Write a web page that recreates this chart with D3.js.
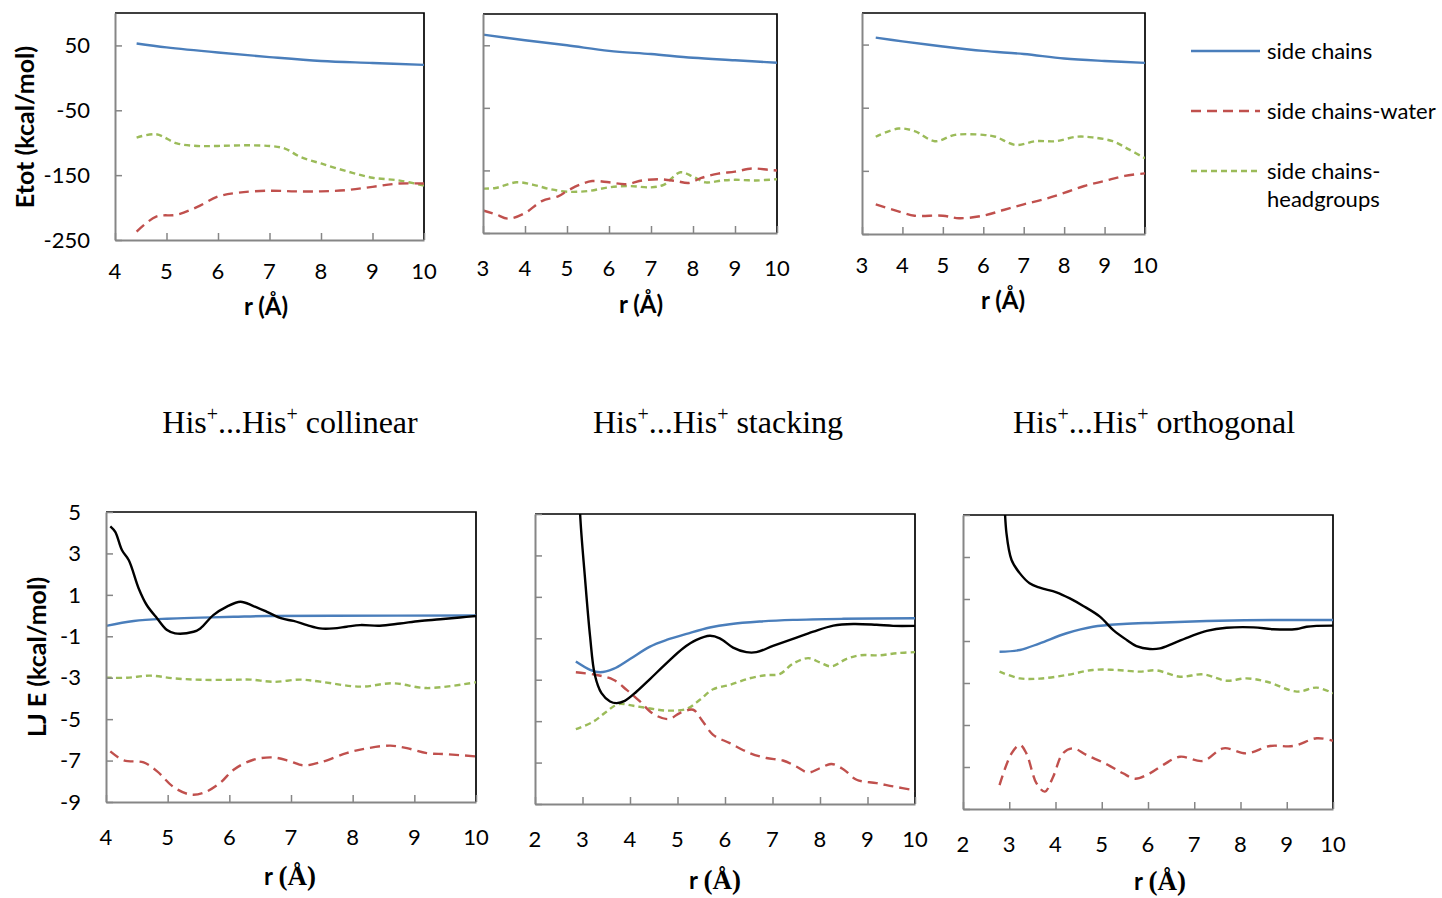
<!DOCTYPE html>
<html>
<head>
<meta charset="utf-8">
<script src="https://cdn.jsdelivr.net/npm/d3@7"></script>
<style>
  body { margin: 0; background: #fff; }
  text { font-family: Lato, "Open Sans", sans-serif; fill: #000; }
</style>
</head>
<body>
<script>
const width = 1442;
const height = 898;

// top row: total energy, [r, Etot]
const collSide = [[4.42,53],[5,47],[6,39],[7,32],[8,26],[9,23],[10,20]];
const collWater = [[4.42,-237],[4.8,-214],[5.2,-211],[5.6,-199],[6,-183],[6.4,-177],[7,-174],[7.5,-175],[8,-175],[8.5,-173],[9,-168],[9.5,-163],[10,-163]];
const collHead = [[4.42,-92],[4.8,-87],[5.2,-101],[5.6,-105],[6,-105],[6.5,-104],[7,-105],[7.3,-109],[7.6,-122],[8,-132],[8.5,-144],[9,-154],[9.5,-158],[10,-166]];

const stackSide = [[3,67],[4,58],[5,50],[6,41],[7,36],[8,30],[9,26],[10,22]];
const stackWater = [[3,-214],[3.3,-220],[3.6,-227],[4,-218],[4.4,-199],[4.8,-191],[5,-183],[5.3,-173],[5.6,-167],[6,-169],[6.4,-172],[6.8,-166],[7.2,-164],[7.6,-167],[7.9,-170],[8.2,-162],[8.6,-155],[9,-152],[9.4,-147],[9.8,-149],[10,-150]];
const stackHead = [[3,-179],[3.3,-178],[3.8,-169],[4.2,-173],[4.6,-180],[5,-184],[5.5,-183],[6,-177],[6.5,-175],[7,-177],[7.3,-173],[7.7,-153],[8,-160],[8.3,-169],[8.7,-166],[9,-165],[9.5,-166],[10,-164]];

const orthSide = [[3.34,61],[4,55],[5,47],[6,40],[7,35],[8,28],[9,24],[10,21]];
const orthWater = [[3.34,-203],[4,-216],[4.3,-221],[5,-221],[5.4,-225],[6,-221],[6.5,-212],[7,-203],[7.5,-195],[8,-185],[8.5,-174],[9,-166],[9.5,-158],[10,-154]];
const orthHead = [[3.34,-96],[3.9,-83],[4.3,-87],[4.8,-103],[5.3,-93],[6,-93],[6.3,-96],[6.8,-109],[7.3,-103],[7.8,-103],[8.3,-96],[8.7,-97],[9.2,-103],[9.6,-116],[10,-130]];

// bottom row: LJ energy, [r, E]
const ljCollTotal = [[4.07,4.31],[4.15,4.04],[4.26,3.15],[4.37,2.67],[4.53,1.31],[4.66,0.51],[4.83,-0.14],[4.99,-0.7],[5.12,-0.86],[5.42,-0.78],[5.53,-0.62],[5.74,0.02],[5.96,0.43],[6.18,0.67],[6.39,0.46],[6.61,0.18],[6.85,-0.14],[7.04,-0.26],[7.26,-0.46],[7.47,-0.62],[7.69,-0.62],[7.9,-0.54],[8.12,-0.46],[8.44,-0.49],[8.77,-0.38],[9.09,-0.26],[9.42,-0.18],[9.74,-0.09],[10,-0.02]];
const ljCollSide = [[4,-0.5],[4.45,-0.26],[4.99,-0.15],[5.53,-0.1],[6.07,-0.06],[6.6,-0.02],[7.69,-0.01],[10,0]];
const ljCollHead = [[4,-3],[4.34,-3],[4.72,-2.9],[5.1,-3.03],[5.53,-3.1],[6.07,-3.1],[6.34,-3.09],[6.72,-3.2],[7.15,-3.09],[7.47,-3.19],[8.12,-3.43],[8.66,-3.27],[9.2,-3.5],[10,-3.22]];
const ljCollWater = [[4.07,-6.56],[4.29,-6.99],[4.61,-7.09],[4.83,-7.52],[5.1,-8.29],[5.37,-8.64],[5.58,-8.56],[5.85,-8.08],[6.07,-7.44],[6.39,-6.96],[6.72,-6.85],[6.99,-7.04],[7.2,-7.23],[7.47,-7.09],[7.9,-6.64],[8.23,-6.41],[8.61,-6.28],[8.88,-6.4],[9.2,-6.64],[9.52,-6.69],[10,-6.8]];

const ljStackTotal = [[2.92,8],[2.95,5],[3.05,1.98],[3.16,-0.92],[3.26,-2.77],[3.4,-3.65],[3.58,-4.05],[3.72,-4.13],[3.89,-4.02],[4.14,-3.57],[4.42,-2.97],[4.77,-2.2],[5.12,-1.48],[5.4,-1.08],[5.68,-0.88],[5.89,-1],[6.17,-1.45],[6.45,-1.67],[6.66,-1.67],[7.01,-1.37],[7.43,-1.03],[7.86,-0.68],[8.28,-0.39],[8.7,-0.31],[9.19,-0.35],[9.54,-0.4],[10,-0.4]];
const ljStackSide = [[2.86,-2.12],[3.16,-2.52],[3.37,-2.64],[3.65,-2.48],[4,-2],[4.42,-1.4],[4.77,-1.08],[5.19,-0.79],[5.68,-0.48],[6.1,-0.32],[6.73,-0.19],[7.43,-0.11],[8.49,-0.06],[10,-0.03]];
const ljStackHead = [[2.86,-5.39],[3.23,-5.02],[3.51,-4.53],[3.75,-4.18],[4.07,-4.26],[4.42,-4.39],[4.77,-4.49],[5.19,-4.41],[5.47,-3.97],[5.75,-3.46],[6.1,-3.25],[6.52,-2.93],[6.87,-2.78],[7.15,-2.73],[7.43,-2.23],[7.75,-1.96],[8,-2.17],[8.24,-2.36],[8.56,-1.99],[8.84,-1.82],[9.26,-1.82],[9.61,-1.72],[10,-1.67]];
const ljStackWater = [[2.86,-2.64],[3.3,-2.77],[3.65,-3],[3.93,-3.49],[4.21,-4.05],[4.49,-4.65],[4.81,-4.9],[5.05,-4.61],[5.33,-4.45],[5.51,-4.94],[5.75,-5.66],[6.1,-6.06],[6.52,-6.54],[6.87,-6.78],[7.22,-6.9],[7.5,-7.19],[7.75,-7.48],[8,-7.27],[8.24,-7.07],[8.49,-7.32],[8.77,-7.83],[9.19,-7.99],[9.54,-8.15],[10,-8.34]];

const ljOrthTotal = [[2.88,7],[2.94,4.13],[3.05,2.86],[3.23,2.22],[3.44,1.75],[3.66,1.54],[4.02,1.32],[4.31,1.03],[4.6,0.67],[4.96,0.16],[5.25,-0.48],[5.54,-0.95],[5.75,-1.24],[6.04,-1.38],[6.26,-1.35],[6.55,-1.11],[6.91,-0.79],[7.27,-0.52],[7.7,-0.37],[8.28,-0.35],[8.71,-0.44],[9.22,-0.43],[9.43,-0.32],[10,-0.27]];
const ljOrthSide = [[2.79,-1.51],[3.23,-1.43],[3.66,-1.11],[4.24,-0.63],[4.81,-0.32],[5.46,-0.19],[6.18,-0.13],[7.27,-0.05],[8.71,0],[10,0]];
const ljOrthHead = [[2.79,-2.46],[3.23,-2.78],[3.66,-2.79],[4.24,-2.62],[4.81,-2.38],[5.32,-2.38],[5.82,-2.46],[6.18,-2.4],[6.69,-2.7],[7.19,-2.59],[7.7,-2.89],[8.13,-2.78],[8.57,-2.94],[9.22,-3.41],[9.65,-3.22],[10,-3.49]];
const ljOrthWater = [[2.79,-7.86],[3.05,-6.35],[3.23,-5.95],[3.37,-6.35],[3.59,-7.78],[3.77,-8.17],[3.95,-7.46],[4.16,-6.35],[4.38,-6.11],[4.67,-6.43],[5.1,-6.86],[5.46,-7.3],[5.72,-7.56],[6.04,-7.3],[6.33,-6.9],[6.69,-6.51],[7.19,-6.71],[7.63,-6.11],[8.13,-6.35],[8.64,-6],[9.14,-6],[9.65,-5.63],[10,-5.75]];

const etotTicks = [50, -50, -150, -250];
const ljTicks = [5, 3, 1, -1, -3, -5, -7, -9];
const legendNames = ["side chains", "side chains-water", "side chains-headgroups"];
const titleKinds = ["collinear", "stacking", "orthogonal"];

const blue = "#4a7ebb", red = "#c0504d", green = "#9bbb59";
const styles = {
  side: { color: blue, dash: null },
  water: { color: red, dash: "10,6" },
  head: { color: green, dash: "6,4" },
  total: { color: "#000", dash: null }
};

const svg = d3.select("body").append("svg")
  .attr("width", width)
  .attr("height", height);

function panel(id, o) {
  const x = d3.scaleLinear().domain(o.xDomain).range([o.left, o.right]);
  const y = d3.scaleLinear().domain(o.yDomain).range([o.bottom, o.top]);
  const g = svg.append("g");

  g.append("clipPath").attr("id", "clip" + id)
    .append("rect")
    .attr("x", o.left).attr("y", o.top)
    .attr("width", o.right - o.left).attr("height", o.bottom - o.top);

  // black frame (top & right)
  g.append("path")
    .attr("d", `M${o.left},${o.top}H${o.right}V${o.bottom}`)
    .attr("fill", "none").attr("stroke", "#000").attr("stroke-width", 1.7);

  const line = d3.line()
    .x(d => x(d[0])).y(d => y(d[1]))
    .curve(d3.curveCatmullRom.alpha(0.5));

  o.series.forEach(s => {
    const st = styles[s.kind];
    g.append("path")
      .attr("clip-path", `url(#clip${id})`)
      .attr("d", line(s.data))
      .attr("fill", "none")
      .attr("stroke", st.color)
      .attr("stroke-width", 2.4)
      .attr("stroke-dasharray", st.dash);
  });

  // axes: grey, inward ticks
  const xAxis = g.append("g")
    .attr("transform", `translate(0,${o.bottom})`)
    .call(d3.axisBottom(x).tickValues(d3.range(o.xDomain[0], o.xDomain[1] + 1)).tickSize(-7).tickSizeOuter(0).tickPadding(0));
  xAxis.selectAll("text").remove();
  const yAxis = g.append("g")
    .attr("transform", `translate(${o.left},0)`)
    .call(d3.axisLeft(y).tickValues(o.yTicks).tickSize(-7).tickSizeOuter(0));
  yAxis.selectAll("text").remove();
  [xAxis, yAxis].forEach(a => {
    a.select(".domain").attr("stroke", "#868686").attr("stroke-width", 2);
    a.selectAll(".tick line").attr("stroke", "#868686").attr("stroke-width", 1.5);
  });

  g.selectAll(".xl").data(d3.range(o.xDomain[0], o.xDomain[1] + 1)).join("text")
    .attr("x", d => x(d)).attr("y", o.xLabY)
    .attr("text-anchor", "middle").attr("dy", "0.35em")
    .attr("font-size", 22).text(d => d);

  if (o.yLabels) {
    g.selectAll(".yl").data(o.yTicks).join("text")
      .attr("x", o.left - 25).attr("y", d => y(d))
      .attr("text-anchor", "end").attr("dy", "0.35em")
      .attr("font-size", 22).text(d => d);
  }

  const t = g.append("text")
    .attr("x", o.xTitle[0]).attr("y", o.xTitle[1])
    .attr("text-anchor", "middle").attr("dy", "0.35em")
    .attr("font-size", 24).attr("font-weight", "bold");
  t.append("tspan").text("r ");
  t.append("tspan")
    .style("font-family", o.serifA ? "'Liberation Serif', serif" : null)
    .attr("font-size", o.serifA ? 27 : 24)
    .text("(Å)");
}

const etotDom = [-250, 100];
const ljDom = [-9, 5];

panel(1, { left: 115, right: 424, top: 13, bottom: 240, xDomain: [4, 10], yDomain: etotDom, yTicks: etotTicks, yLabels: true,
  xLabY: 271, xTitle: [266, 307],
  series: [{ kind: "head", data: collHead }, { kind: "water", data: collWater }, { kind: "side", data: collSide }] });
panel(2, { left: 483, right: 777, top: 14, bottom: 233, xDomain: [3, 10], yDomain: etotDom, yTicks: etotTicks, yLabels: false,
  xLabY: 268, xTitle: [641, 305],
  series: [{ kind: "head", data: stackHead }, { kind: "water", data: stackWater }, { kind: "side", data: stackSide }] });
panel(3, { left: 862, right: 1145, top: 13, bottom: 234, xDomain: [3, 10], yDomain: etotDom, yTicks: etotTicks, yLabels: false,
  xLabY: 265, xTitle: [1003, 301],
  series: [{ kind: "head", data: orthHead }, { kind: "water", data: orthWater }, { kind: "side", data: orthSide }] });

panel(4, { left: 106, right: 476, top: 512, bottom: 802, xDomain: [4, 10], yDomain: ljDom, yTicks: ljTicks, yLabels: true,
  xLabY: 837, xTitle: [290, 877], serifA: true,
  series: [{ kind: "head", data: ljCollHead }, { kind: "water", data: ljCollWater }, { kind: "side", data: ljCollSide }, { kind: "total", data: ljCollTotal }] });
panel(5, { left: 535, right: 915, top: 514, bottom: 804, xDomain: [2, 10], yDomain: ljDom, yTicks: ljTicks, yLabels: false,
  xLabY: 839, xTitle: [715, 881], serifA: true,
  series: [{ kind: "head", data: ljStackHead }, { kind: "water", data: ljStackWater }, { kind: "side", data: ljStackSide }, { kind: "total", data: ljStackTotal }] });
panel(6, { left: 963, right: 1333, top: 515, bottom: 809, xDomain: [2, 10], yDomain: ljDom, yTicks: ljTicks, yLabels: false,
  xLabY: 844, xTitle: [1160, 882], serifA: true,
  series: [{ kind: "head", data: ljOrthHead }, { kind: "water", data: ljOrthWater }, { kind: "side", data: ljOrthSide }, { kind: "total", data: ljOrthTotal }] });

// y axis titles
svg.append("text")
  .attr("transform", "translate(25,127) rotate(-90)")
  .attr("text-anchor", "middle").attr("dy", "0.35em")
  .attr("font-size", 25).attr("font-weight", "bold")
  .text("Etot (kcal/mol)");
svg.append("text")
  .attr("transform", "translate(37,657) rotate(-90)")
  .attr("text-anchor", "middle").attr("dy", "0.35em")
  .attr("font-size", 25).attr("font-weight", "bold")
  .text("LJ E (kcal/mol)");

// legend
const legend = svg.append("g");
const legKinds = ["side", "water", "head"];
legKinds.forEach((k, i) => {
  const ly = 51 + i * 60;
  legend.append("line")
    .attr("x1", 1191).attr("x2", 1260).attr("y1", ly).attr("y2", ly)
    .attr("stroke", styles[k].color).attr("stroke-width", 2.4)
    .attr("stroke-dasharray", styles[k].dash);
});
legend.append("text").attr("x", 1267).attr("y", 51).attr("dy", "0.35em").attr("font-size", 22).text(legendNames[0]);
legend.append("text").attr("x", 1267).attr("y", 111).attr("dy", "0.35em").attr("font-size", 22).text(legendNames[1]);
legend.append("text").attr("x", 1267).attr("y", 171).attr("dy", "0.35em").attr("font-size", 22).text("side chains-");
legend.append("text").attr("x", 1267).attr("y", 199).attr("dy", "0.35em").attr("font-size", 22).text("headgroups");

// panel titles
const titleX = [290, 718, 1154];
titleKinds.forEach((kind, i) => {
  const t = svg.append("text")
    .attr("x", titleX[i]).attr("y", 433)
    .attr("text-anchor", "middle")
    .style("font-family", "'Liberation Serif', 'Times New Roman', serif")
    .attr("font-size", 32);
  t.append("tspan").text("His");
  t.append("tspan").attr("dy", -12).attr("font-size", 20).text("+");
  t.append("tspan").attr("dy", 12).text("...His");
  t.append("tspan").attr("dy", -12).attr("font-size", 20).text("+");
  t.append("tspan").attr("dy", 12).text(" " + kind);
});
</script>
</body>
</html>
